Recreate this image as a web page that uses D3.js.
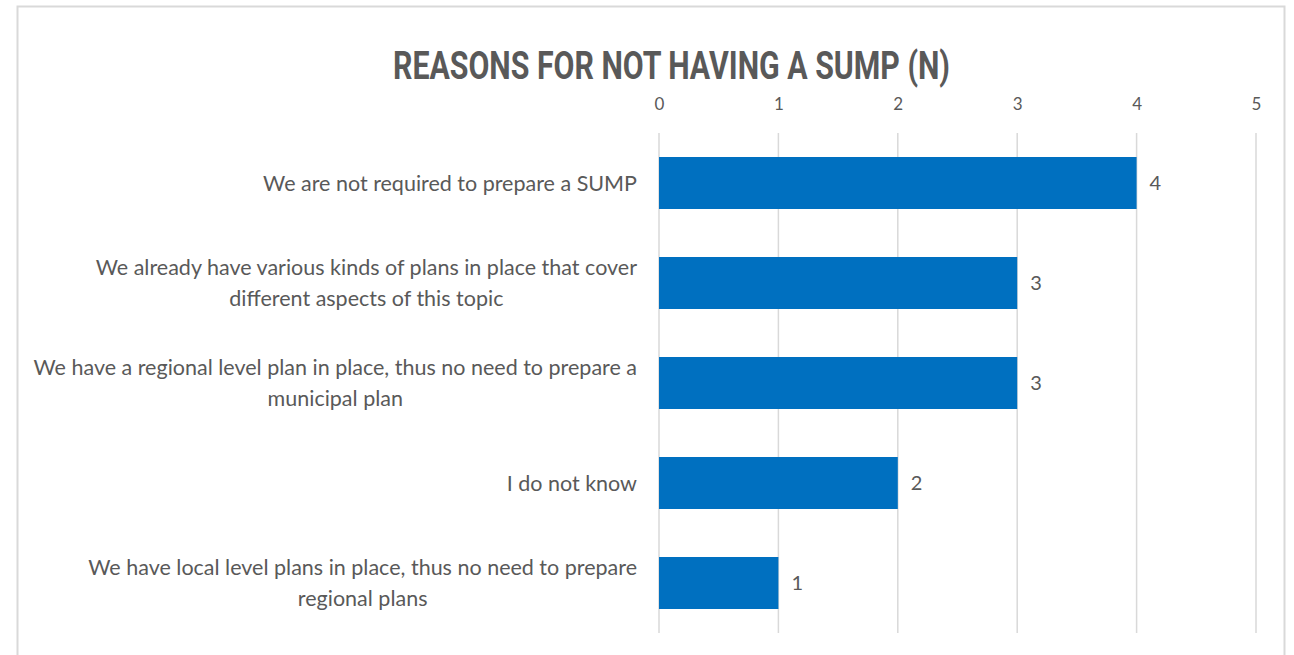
<!DOCTYPE html>
<html>
<head>
<meta charset="utf-8">
<script src="https://cdn.jsdelivr.net/npm/d3@7"></script>
<style>
  html, body { margin: 0; padding: 0; background: #ffffff; }
  svg { display: block; }
</style>
</head>
<body>
<svg id="chart" width="1294" height="655"></svg>
<script>
// Survey responses: reasons given for not having a SUMP (count of respondents)
const categories = [
  ["We are not required to prepare a SUMP"],
  ["We already have various kinds of plans in place that cover", "different aspects of this topic"],
  ["We have a regional level plan in place, thus no need to prepare a", "municipal plan"],
  ["I do not know"],
  ["We have local level plans in place, thus no need to prepare", "regional plans"]
];
const values = [4, 3, 3, 2, 1];
const tickValues = [0, 1, 2, 3, 4, 5];
const titleText = "REASONS FOR NOT HAVING A SUMP (N)";

const svg = d3.select("#chart");
const textColor = "#595959";
const gridColor = "#d9d9d9";
const barColor = "#0070c0";

// Outer chart frame (open at the bottom edge of the view)
svg.append("path")
  .attr("d", "M17.5,660 V6.5 H1284.5 V660")
  .attr("fill", "none")
  .attr("stroke", "#d9d9d9")
  .attr("stroke-width", 2);

// Title
svg.append("text")
  .attr("x", 393)
  .attr("y", 79)
  .attr("font-family", "Roboto, 'DejaVu Sans', sans-serif")
  .attr("font-weight", 700)
  .attr("font-size", 38)
  .attr("fill", textColor)
  .attr("textLength", 557)
  .attr("lengthAdjust", "spacingAndGlyphs")
  .text(titleText);

const x = d3.scaleLinear().domain([0, 5]).range([659, 1256]);
const y = d3.scaleBand()
  .domain(d3.range(values.length))
  .range([133, 633])
  .paddingInner(0.48)
  .paddingOuter(0.24);

// Vertical gridlines
svg.append("g")
  .selectAll("line")
  .data(tickValues)
  .join("line")
  .attr("x1", d => x(d))
  .attr("x2", d => x(d))
  .attr("y1", 133)
  .attr("y2", 633)
  .attr("stroke", gridColor)
  .attr("stroke-width", 1.5);

// Top value axis (labels only)
const axis = svg.append("g")
  .attr("transform", "translate(0,110)")
  .call(d3.axisTop(x).tickValues(tickValues).tickFormat(d3.format("d")).tickSize(0).tickPadding(0));
axis.select(".domain").remove();
axis.selectAll("text")
  .attr("font-family", "Lato, 'Open Sans', sans-serif")
  .attr("font-size", 17)
  .attr("fill", textColor);

// Bars
svg.append("g")
  .selectAll("rect")
  .data(values)
  .join("rect")
  .attr("x", x(0))
  .attr("y", (d, i) => y(i))
  .attr("width", d => x(d) - x(0))
  .attr("height", y.bandwidth())
  .attr("fill", barColor);

// Value labels
svg.append("g")
  .selectAll("text")
  .data(values)
  .join("text")
  .attr("x", d => x(d) + 13)
  .attr("y", (d, i) => y(i) + y.bandwidth() / 2)
  .attr("dy", "0.35em")
  .attr("font-family", "Lato, 'Open Sans', sans-serif")
  .attr("font-size", 20)
  .attr("fill", textColor)
  .text(d => d);

// Category labels: lines centred within a block right-aligned to the plot
const labelRight = 637;
const lineGap = 31;
const labelGroup = svg.append("g");
categories.forEach((lines, i) => {
  const cy = y(i) + y.bandwidth() / 2;
  const t = labelGroup.append("text")
    .attr("font-family", "Lato, 'Open Sans', sans-serif")
    .attr("font-size", 21.5)
    .attr("fill", textColor)
    .attr("text-anchor", "middle");
  const spans = lines.map((ln, j) => t.append("tspan")
    .attr("y", cy + (j - (lines.length - 1) / 2) * lineGap)
    .attr("dy", "0.35em")
    .text(ln));
  const w = d3.max(spans, s => s.node().getComputedTextLength());
  spans.forEach(s => s.attr("x", labelRight - w / 2));
});
</script>
</body>
</html>
